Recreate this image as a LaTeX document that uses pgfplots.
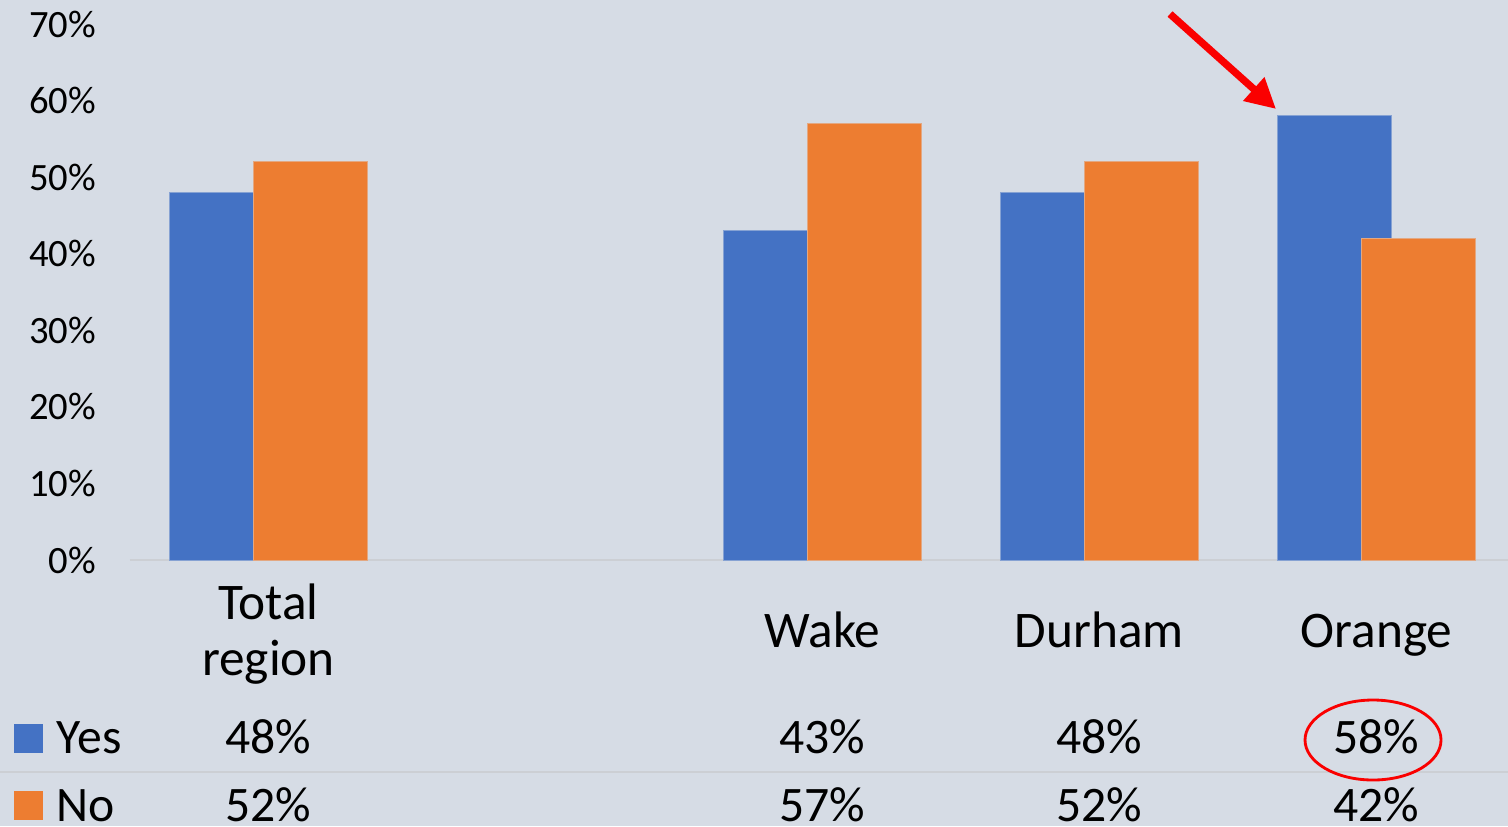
\documentclass[border=0pt]{standalone}
\usepackage{pgfplots}
\usepackage{pgfplotstable}
\pgfplotsset{compat=1.18}
\usepackage{fontspec}
\setmainfont{Carlito}
\usetikzlibrary{arrows.meta}

\definecolor{bg}{RGB}{214,220,229}
\definecolor{yesblue}{RGB}{68,114,196}
\definecolor{noorange}{RGB}{237,125,49}
\definecolor{rule}{RGB}{204,207,212}
\definecolor{hlred}{RGB}{250,0,0}

% 1 px of the reference = 0.3pt
\pgfplotstableread{
x yes no
0 48 52
2 43 57
3 48 52
4 58 42
}\survey

\begin{document}
\begin{tikzpicture}[x=0.3pt,y=0.3pt]
\clip (0,0) rectangle (1508,826);
\fill[bg] (0,0) rectangle (1508,826);
% separator between the Yes and No rows of the data table
\draw[rule, line width=0.6pt] (0,54) -- (1508,54);

\begin{axis}[
    at={(39pt,79.8pt)}, anchor=south west,
    scale only axis,
    width=415.5pt, height=160.8pt,
    xmin=-0.5, xmax=4.5,
    ymin=0, ymax=70,
    clip=false,
    axis line style={draw=none},
    major tick length=0pt,
    ytick={0,10,...,70},
    yticklabel={\pgfmathprintnumber{\tick}\%},
    yticklabel style={anchor=east, inner sep=0pt, xshift=-10pt, font=\fontsize{11.6}{13}\selectfont},
    extra y ticks={0},
    extra y tick labels={},
    extra y tick style={grid=major, grid style={rule, line width=0.6pt}},
    xtick={0,2,3,4},
    xticklabels={{\strut Total\\\strut region},\strut Wake,\strut Durham,\strut Orange},
    xticklabel style={anchor=center, yshift=-22.95pt, inner sep=0pt,
        font=\fontsize{15.4}{16.8}\selectfont, align=center},
    /pgf/number format/assume math mode=true,
    legend style={at={(axis description cs:-0.0845,-0.3955)}, anchor=west,
        draw=none, fill=none, inner sep=0pt, row sep=10.3pt,
        font=\fontsize{14.9}{16}\selectfont,
        nodes={inner sep=0pt}},
    legend cell align=left,
]
\addplot[ybar, bar width=34.2pt, bar shift=-12.6pt, fill=yesblue,
    draw=yesblue!55!bg, line width=0.3pt,
    legend image code/.code={\fill[yesblue] (0pt,-4.2pt) rectangle (8.4pt,4.2pt);}]
    table[x=x, y=yes] {\survey};
\addlegendentry{\hspace{4.2pt}\raisebox{-1.2pt}{Yes}}
\addplot[ybar, bar width=34.2pt, bar shift=12.6pt, fill=noorange,
    draw=noorange!55!bg, line width=0.3pt,
    legend image code/.code={\fill[noorange] (0pt,-4.2pt) rectangle (8.4pt,4.2pt);}]
    table[x=x, y=no] {\survey};
\addlegendentry{\hspace{4.2pt}\raisebox{-1.2pt}{No}}

% data table values under each category
\addplot[draw=none, mark=none, forget plot, point meta=\thisrow{yes},
    nodes near coords={\pgfmathprintnumber{\pgfplotspointmeta}\%},
    every node near coord/.style={anchor=base, inner sep=0pt, font=\fontsize{14.9}{16}\selectfont}]
    table[x=x, y expr=-25.3] {\survey};
\addplot[draw=none, mark=none, forget plot, point meta=\thisrow{no},
    nodes near coords={\pgfmathprintnumber{\pgfplotspointmeta}\%},
    every node near coord/.style={anchor=base, inner sep=0pt, font=\fontsize{14.9}{16}\selectfont}]
    table[x=x, y expr=-34.1] {\survey};
\end{axis}

% highlight of Orange
\draw[hlred, line width=2.2pt, -{Triangle[length=9pt, width=9pt]}] (1170,812) -- (1276,717);
\draw[hlred, line width=0.85pt] (1373,86) ellipse [x radius=68, y radius=40];
\end{tikzpicture}
\end{document}
